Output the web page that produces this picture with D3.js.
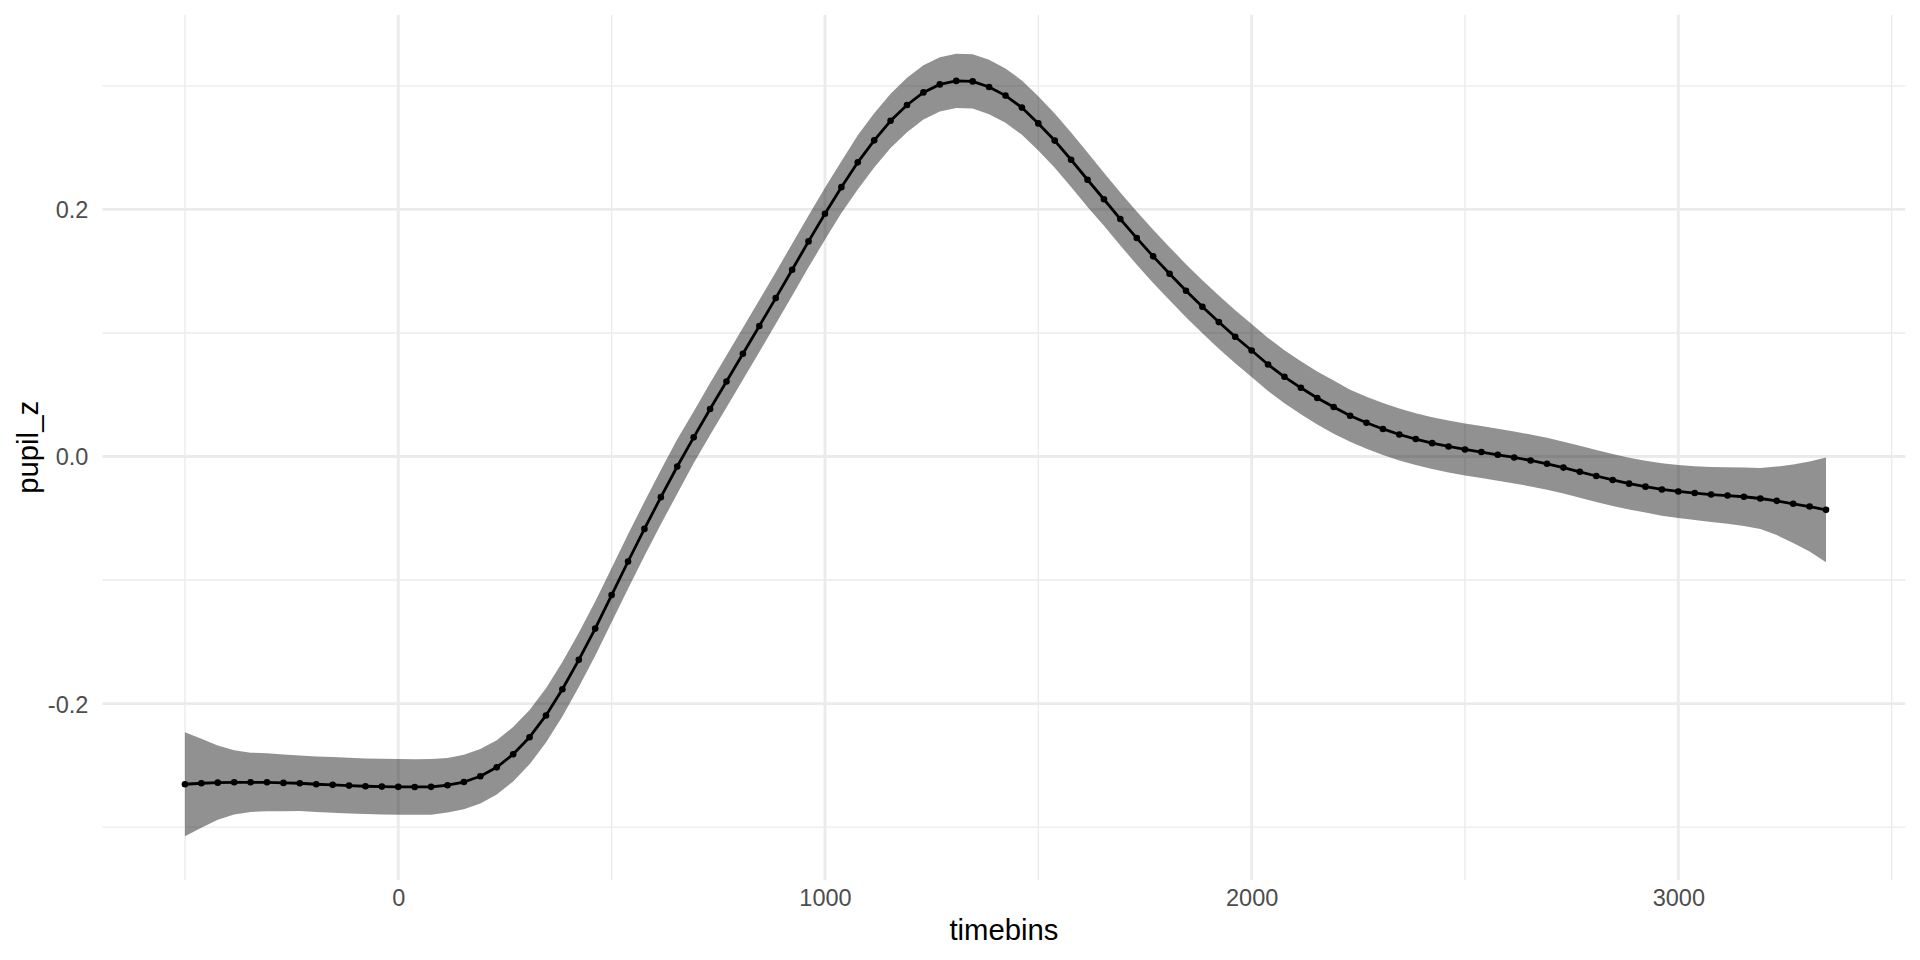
<!DOCTYPE html>
<html>
<head>
<meta charset="utf-8">
<script src="https://cdn.jsdelivr.net/npm/d3@7"></script>
<style>
  html, body { margin: 0; padding: 0; background: #ffffff; }
  svg { display: block; }
</style>
</head>
<body>
<svg id="chart" width="1920" height="960"></svg>
<script>
// ---- data ----
const timebins = [
  -500, -461.5, -423.1, -384.6, -346.2, -307.7, -269.2, -230.8, -192.3, -153.8,
  -115.4, -76.9, -38.5, 0, 38.5, 76.9, 115.4, 153.8, 192.3, 230.8,
  269.2, 307.7, 346.2, 384.6, 423.1, 461.5, 500, 538.5, 576.9, 615.4,
  653.8, 692.3, 730.8, 769.2, 807.7, 846.2, 884.6, 923.1, 961.5, 1000,
  1038.5, 1076.9, 1115.4, 1153.8, 1192.3, 1230.8, 1269.2, 1307.7, 1346.2, 1384.6,
  1423.1, 1461.5, 1500, 1538.5, 1576.9, 1615.4, 1653.8, 1692.3, 1730.8, 1769.2,
  1807.7, 1846.2, 1884.6, 1923.1, 1961.5, 2000, 2038.5, 2076.9, 2115.4, 2153.8,
  2192.3, 2230.8, 2269.2, 2307.7, 2346.2, 2384.6, 2423.1, 2461.5, 2500, 2538.5,
  2576.9, 2615.4, 2653.8, 2692.3, 2730.8, 2769.2, 2807.7, 2846.2, 2884.6, 2923.1,
  2961.5, 3000, 3038.5, 3076.9, 3115.4, 3153.8, 3192.3, 3230.8, 3269.2, 3307.7,
  3346.2
];
const pupil_z = [
  -0.2653, -0.2645, -0.2640, -0.2637, -0.2637, -0.2637, -0.2642, -0.2645, -0.2653, -0.2658,
  -0.2664, -0.2669, -0.2672, -0.2674, -0.2675, -0.2674, -0.2661, -0.2635, -0.2588, -0.2516,
  -0.2410, -0.2272, -0.2096, -0.1884, -0.1646, -0.1393, -0.1122, -0.0850, -0.0586, -0.0329,
  -0.0081, 0.0155, 0.0384, 0.0607, 0.0832, 0.1056, 0.1282, 0.1512, 0.1741, 0.1965,
  0.2180, 0.2381, 0.2559, 0.2717, 0.2845, 0.2947, 0.3012, 0.3040, 0.3036, 0.2991,
  0.2921, 0.2824, 0.2696, 0.2557, 0.2402, 0.2240, 0.2082, 0.1922, 0.1768, 0.1620,
  0.1479, 0.1342, 0.1212, 0.1088, 0.0969, 0.0858, 0.0745, 0.0645, 0.0556, 0.0473,
  0.0400, 0.0330, 0.0273, 0.0223, 0.0178, 0.0141, 0.0108, 0.0081, 0.0057, 0.0036,
  0.0014, -0.0008, -0.0032, -0.0059, -0.0090, -0.0124, -0.0158, -0.0190, -0.0220, -0.0244,
  -0.0267, -0.0283, -0.0296, -0.0308, -0.0316, -0.0326, -0.0340, -0.0359, -0.0383, -0.0405,
  -0.0432
];
// half-width of the confidence band at each timebin
const ci = [
  0.0420, 0.0360, 0.0300, 0.0260, 0.0240, 0.0235, 0.0230, 0.0225, 0.0225, 0.0225,
  0.0225, 0.0225, 0.0225, 0.0225, 0.0225, 0.0225, 0.0220, 0.0220, 0.0220, 0.0220,
  0.0220, 0.0220, 0.0220, 0.0220, 0.0220, 0.0220, 0.0220, 0.0220, 0.0220, 0.0220,
  0.0220, 0.0210, 0.0210, 0.0210, 0.0210, 0.0210, 0.0210, 0.0210, 0.0210, 0.0210,
  0.0210, 0.0220, 0.0220, 0.0220, 0.0220, 0.0220, 0.0220, 0.0220, 0.0220, 0.0220,
  0.0220, 0.0220, 0.0220, 0.0220, 0.0220, 0.0220, 0.0215, 0.0215, 0.0215, 0.0215,
  0.0215, 0.0215, 0.0215, 0.0215, 0.0215, 0.0215, 0.0215, 0.0215, 0.0215, 0.0215,
  0.0215, 0.0210, 0.0210, 0.0210, 0.0210, 0.0210, 0.0210, 0.0210, 0.0210, 0.0210,
  0.0210, 0.0210, 0.0210, 0.0210, 0.0210, 0.0210, 0.0210, 0.0210, 0.0210, 0.0210,
  0.0212, 0.0215, 0.0218, 0.0222, 0.0229, 0.0236, 0.0247, 0.0277, 0.0318, 0.0364,
  0.0424
];
const xTicks = [0, 1000, 2000, 3000];
const xMinor = [-500, 500, 1500, 2500, 3500];
const yTicks = [-0.2, 0.0, 0.2];
const yTickLabels = ["-0.2", "0.0", "0.2"];
const yMinor = [-0.3, -0.1, 0.1, 0.3];
const xLabel = "timebins";
const yLabel = "pupil_z";

// ---- layout ----
const W = 1920, H = 960;
const panel = { left: 102.6, right: 1905.3, top: 14.7, bottom: 880 };
const data = timebins.map((t, i) => ({ x: t, y: pupil_z[i], lo: pupil_z[i] - ci[i], hi: pupil_z[i] + ci[i] }));

const x = d3.scaleLinear().domain([-693, 3532]).range([panel.left, panel.right]);
const y = d3.scaleLinear().domain([-0.3428, 0.3576]).range([panel.bottom, panel.top]);

const svg = d3.select("#chart");
const font = "'Liberation Sans', Arial, Helvetica, sans-serif";

// grid
const grid = svg.append("g");
grid.selectAll("line.ymin").data(yMinor).enter().append("line")
  .attr("x1", panel.left).attr("x2", panel.right)
  .attr("y1", d => y(d)).attr("y2", d => y(d))
  .attr("stroke", "#EBEBEB").attr("stroke-width", 1.4);
grid.selectAll("line.xmin").data(xMinor).enter().append("line")
  .attr("y1", panel.top).attr("y2", panel.bottom)
  .attr("x1", d => x(d)).attr("x2", d => x(d))
  .attr("stroke", "#EBEBEB").attr("stroke-width", 1.4);
grid.selectAll("line.ymaj").data(yTicks).enter().append("line")
  .attr("x1", panel.left).attr("x2", panel.right)
  .attr("y1", d => y(d)).attr("y2", d => y(d))
  .attr("stroke", "#EBEBEB").attr("stroke-width", 2.85);
grid.selectAll("line.xmaj").data(xTicks).enter().append("line")
  .attr("y1", panel.top).attr("y2", panel.bottom)
  .attr("x1", d => x(d)).attr("x2", d => x(d))
  .attr("stroke", "#EBEBEB").attr("stroke-width", 2.85);

// ribbon
const area = d3.area().x(d => x(d.x)).y0(d => y(d.lo)).y1(d => y(d.hi));
svg.append("path").datum(data).attr("d", area)
  .attr("fill", "#000000").attr("fill-opacity", 0.43);

// line
const line = d3.line().x(d => x(d.x)).y(d => y(d.y));
svg.append("path").datum(data).attr("d", line)
  .attr("fill", "none").attr("stroke", "#000000").attr("stroke-width", 2.8)
  .attr("stroke-linejoin", "round");

// points
svg.append("g").selectAll("circle").data(data).enter().append("circle")
  .attr("cx", d => x(d.x)).attr("cy", d => y(d.y)).attr("r", 3.3)
  .attr("fill", "#000000");

// axes (tick labels only, like theme_minimal)
const xAxis = d3.axisBottom(x).tickValues(xTicks).tickSize(0).tickPadding(0)
  .tickFormat(d3.format("d"));
const gx = svg.append("g").attr("transform", `translate(0,${panel.bottom})`).call(xAxis);
gx.select(".domain").remove();
gx.selectAll("text").attr("y", 26).attr("dy", null)
  .attr("font-family", font).attr("font-size", 23.5).attr("fill", "#4D4D4D");

const yAxis = d3.axisLeft(y).tickValues(yTicks).tickSize(0).tickPadding(0)
  .tickFormat((d, i) => yTickLabels[i]);
const gy = svg.append("g").attr("transform", `translate(88.3,0)`).call(yAxis);
gy.select(".domain").remove();
gy.selectAll("text").attr("x", 0).attr("dy", "0.36em")
  .attr("font-family", font).attr("font-size", 23.5).attr("fill", "#4D4D4D");

// axis titles
svg.append("text").attr("x", (panel.left + panel.right) / 2).attr("y", 940)
  .attr("text-anchor", "middle").attr("font-family", font).attr("font-size", 29.3)
  .attr("fill", "#000000").text(xLabel);
svg.append("text")
  .attr("transform", `translate(38,${(panel.top + panel.bottom) / 2}) rotate(-90)`)
  .attr("text-anchor", "middle").attr("font-family", font).attr("font-size", 29.3)
  .attr("fill", "#000000").text(yLabel);
</script>
</body>
</html>
